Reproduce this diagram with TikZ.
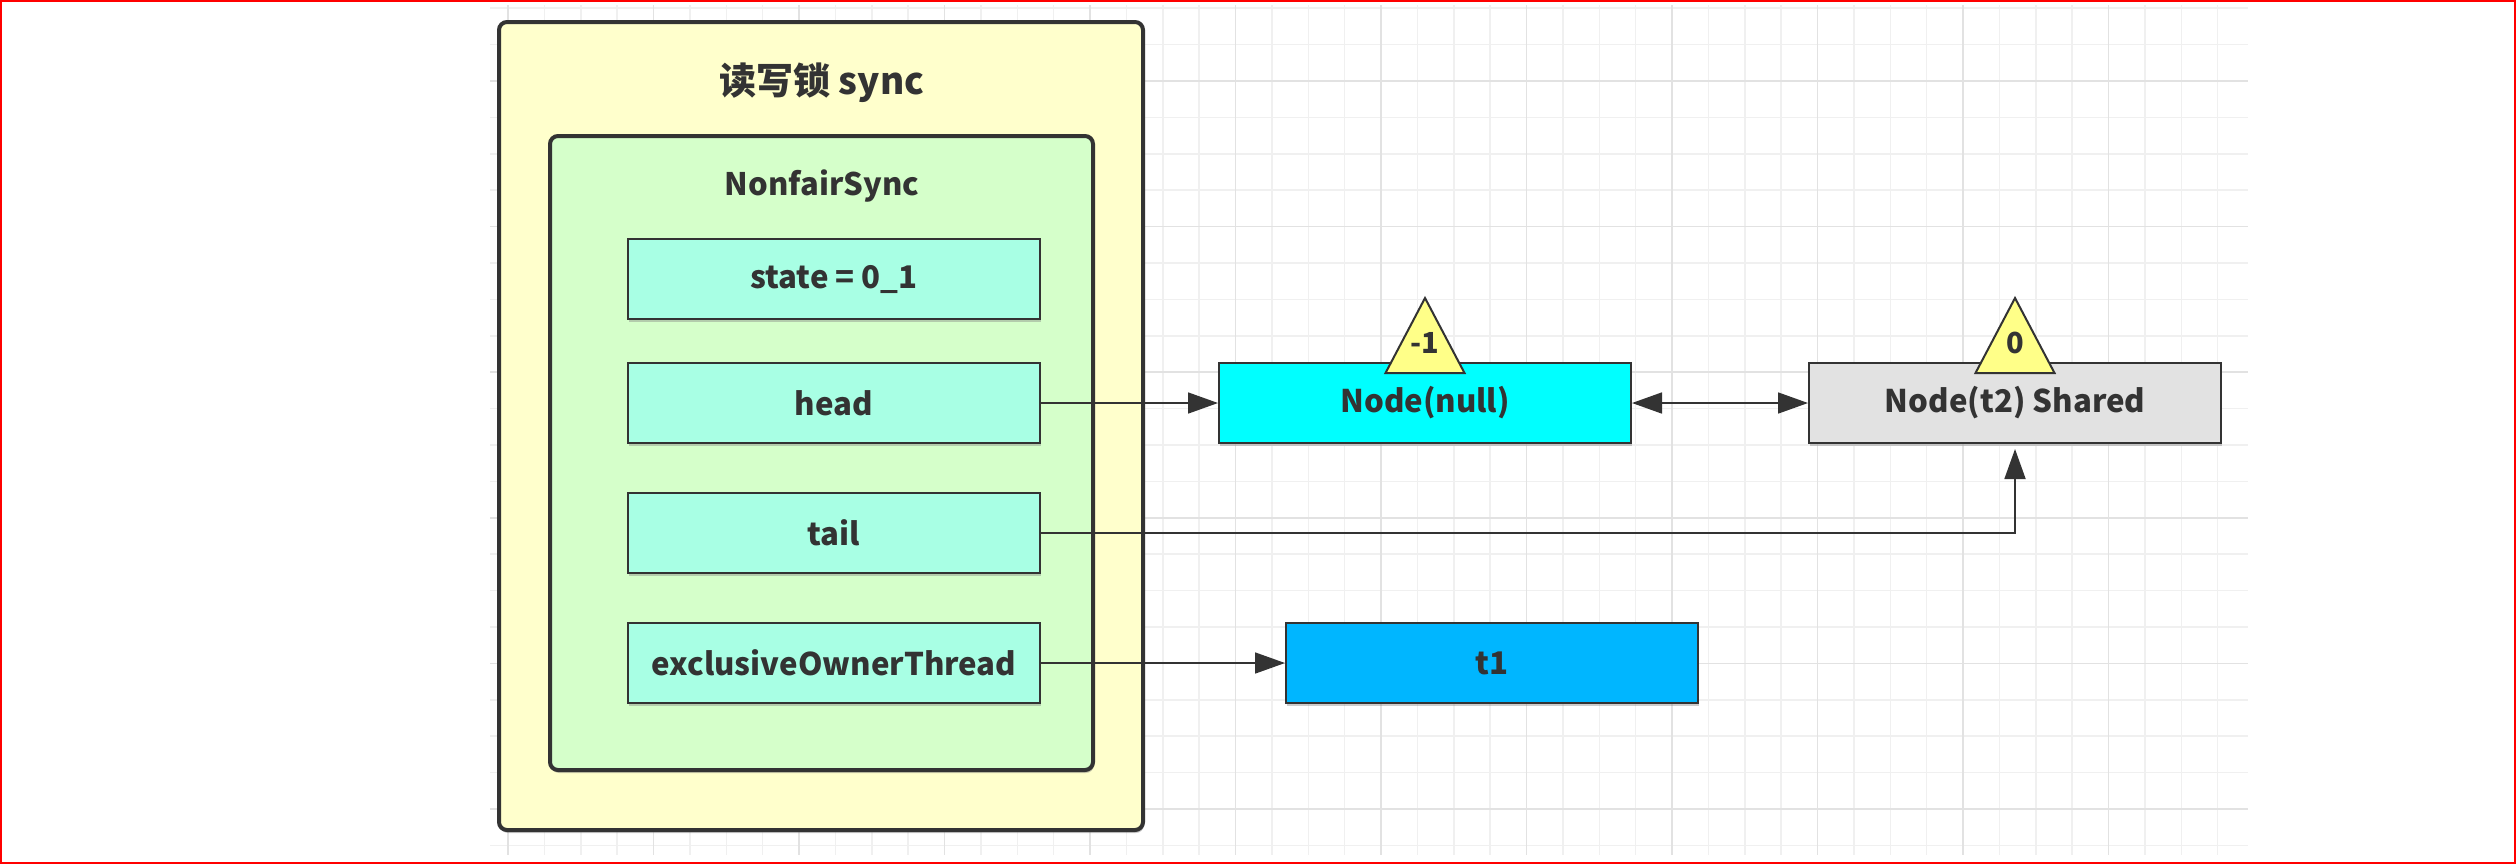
\documentclass[tikz,border=0pt]{standalone}
\usepackage{fontspec}
\setmainfont{Noto Sans CJK SC}
\usetikzlibrary{positioning,arrows.meta,shadows}

\definecolor{inkclr}{HTML}{333333}
\definecolor{gridclr}{HTML}{F0F0F0}
\definecolor{gridmajclr}{HTML}{E2E2E2}
\definecolor{syncclr}{HTML}{FFFFCC}
\definecolor{nfsclr}{HTML}{D5FFCA}
\definecolor{fieldclr}{HTML}{A8FFE4}
\definecolor{nullclr}{HTML}{00FFFF}
\definecolor{sharedclr}{HTML}{E2E2E2}
\definecolor{threadclr}{HTML}{00B6FF}
\definecolor{waitclr}{HTML}{FFFF88}

\tikzset{
  gridline/.style={draw=gridclr, line width=0.75pt},
  gridmajor/.style={draw=gridmajclr, line width=0.75pt},
  holder/.style={draw=inkclr, line width=2pt, rounded corners=4pt, inner sep=0pt,
    drop shadow={shadow xshift=0.5pt, shadow yshift=-1.5pt, opacity=0.4}},
  box/.style={draw=inkclr, line width=1pt, minimum width=206pt, minimum height=40pt,
    inner sep=0pt, text=inkclr, font=\fontsize{15.6}{19}\selectfont\bfseries,
    drop shadow={shadow xshift=0.5pt, shadow yshift=-1.5pt, opacity=0.4}},
  field/.style={box, fill=fieldclr},
  tag/.style={text=inkclr, font=\fontsize{15.5}{19}\selectfont\bfseries},
  flag/.style={draw=inkclr, line width=1pt, fill=waitclr},
  flagtext/.style={text=inkclr, font=\fontsize{14.5}{16}\selectfont\bfseries},
  link/.style={draw=inkclr, line width=0.85pt, -{Triangle[length=15pt,width=10.5pt]}},
}

\begin{document}
\begin{tikzpicture}[x=0.5pt, y=0.5pt]
  \useasboundingbox (0,0) rectangle (2516,-864);

  % grid
  \foreach \k in {0,...,47}
    \draw[gridline] ({508+36.375*\k},-5) -- ({508+36.375*\k},-855);
  \foreach \k in {-2,...,21}
    \draw[gridline] (490,{-81-36.4*\k}) -- (2248,{-81-36.4*\k});
  \foreach \k in {0,...,11}
    \draw[gridmajor] ({508+145.5*\k},-5) -- ({508+145.5*\k},-855);
  \foreach \k in {0,...,5}
    \draw[gridmajor] (490,{-81-145.6*\k}) -- (2248,{-81-145.6*\k});

  % containers
  \node[holder, fill=syncclr, minimum width=322pt, minimum height=404pt] (rw) at (821,-426) {};
  \node[tag, font=\fontsize{18.5}{21}\selectfont\bfseries] (rwtitle) at (822,-83) {读写锁 sync};
  \node[holder, fill=nfsclr, minimum width=271.5pt, minimum height=317pt] (nfs) at (821.5,-453) {};
  \node[tag] (nfstitle) at (822,-186) {NonfairSync};

  % fields
  \node[field] (state) at (834,-279) {state = 0\_1};
  \node[field, below=21pt of state] (head) {head};
  \node[field, below=24pt of head] (tail) {tail};
  \node[field, below=24pt of tail] (owner) {exclusiveOwnerThread};

  % queue and owner
  \node[box, fill=nullclr, right=88.5pt of head] (nnull) {Node(null)};
  \node[box, fill=sharedclr, right=88pt of nnull] (nt2) {Node(t2) Shared};
  \node[box, fill=threadclr, right=122pt of owner] (t1) {t1};

  % wait status
  \draw[flag] (nnull.north) ++(-39.5,-11) -- ++(79,0) -- ++(-39.5,75) -- cycle;
  \path (nnull.north) ++(0,19) node[flagtext] (wnull) {-1};
  \draw[flag] (nt2.north) ++(-39.5,-11) -- ++(79,0) -- ++(-39.5,75) -- cycle;
  \path (nt2.north) ++(0,19) node[flagtext] (wt2) {0};

  \draw[link] (head) -- (nnull);
  \draw[link, {Triangle[length=15pt,width=10.5pt]}-{Triangle[length=15pt,width=10.5pt]}] (nnull) -- (nt2);
  \draw[link, shorten >=2.5pt] (tail) -| (nt2);
  \draw[link] (owner) -- (t1);

  % frame
  \draw[red, line width=1pt] (1,-1) rectangle (2515,-863);
\end{tikzpicture}
\end{document}
